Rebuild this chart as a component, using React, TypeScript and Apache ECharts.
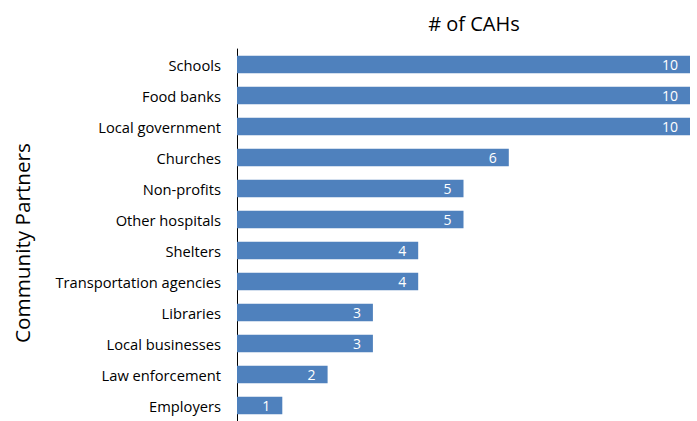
import React, { useEffect, useRef } from "react";
import * as echarts from "echarts";

const categories = [
  "Schools",
  "Food banks",
  "Local government",
  "Churches",
  "Non-profits",
  "Other hospitals",
  "Shelters",
  "Transportation agencies",
  "Libraries",
  "Local businesses",
  "Law enforcement",
  "Employers",
];
const values = [10, 10, 10, 6, 5, 5, 4, 4, 3, 3, 2, 1];
const yAxisTitle = "Community Partners";
const chartTitle = "# of CAHs";

const FONT = "'Open Sans', sans-serif";

export default function App() {
  const ref = useRef<HTMLDivElement>(null);
  useEffect(() => {
    if (!ref.current) return;
    const chart = echarts.init(ref.current, null, { renderer: "svg" });
    chart.setOption({
      animation: false,
      backgroundColor: "#ffffff",
      title: {
        text: chartTitle,
        left: 469,
        textAlign: "center",
        top: 8,
        textStyle: { fontFamily: FONT, fontSize: 20, fontWeight: "normal", color: "#000" },
      },
      graphic: [
        {
          type: "text",
          x: 22,
          y: 243,
          rotation: Math.PI / 2,
          style: {
            text: yAxisTitle,
            fontFamily: FONT,
            fontSize: 20.7,
            fill: "#000",
            align: "center",
            verticalAlign: "middle",
          },
        },
      ],
      grid: { left: 237, right: 7, top: 49, height: 378 },
      xAxis: {
        type: "value",
        min: 0,
        max: 10,
        show: false,
      },
      yAxis: {
        type: "category",
        inverse: true,
        data: categories,
        axisLine: { show: true, lineStyle: { color: "#000", width: 1 } },
        axisTick: { show: false },
        axisLabel: { fontFamily: FONT, fontSize: 14.7, color: "#000", margin: 16 },
      },
      series: [
        {
          type: "bar",
          data: values,
          barCategoryGap: "43%",
          itemStyle: { color: "#4f81bd" },
          label: {
            show: true,
            position: "insideRight",
            distance: 12,
            color: "#fff",
            fontFamily: FONT,
            fontSize: 14,
          },
        },
      ],
    });
    return () => chart.dispose();
  }, []);
  return (
    <div
      ref={ref}
      style={{ position: "fixed", left: 0, top: 0, width: 697, height: 421 }}
    />
  );
}
